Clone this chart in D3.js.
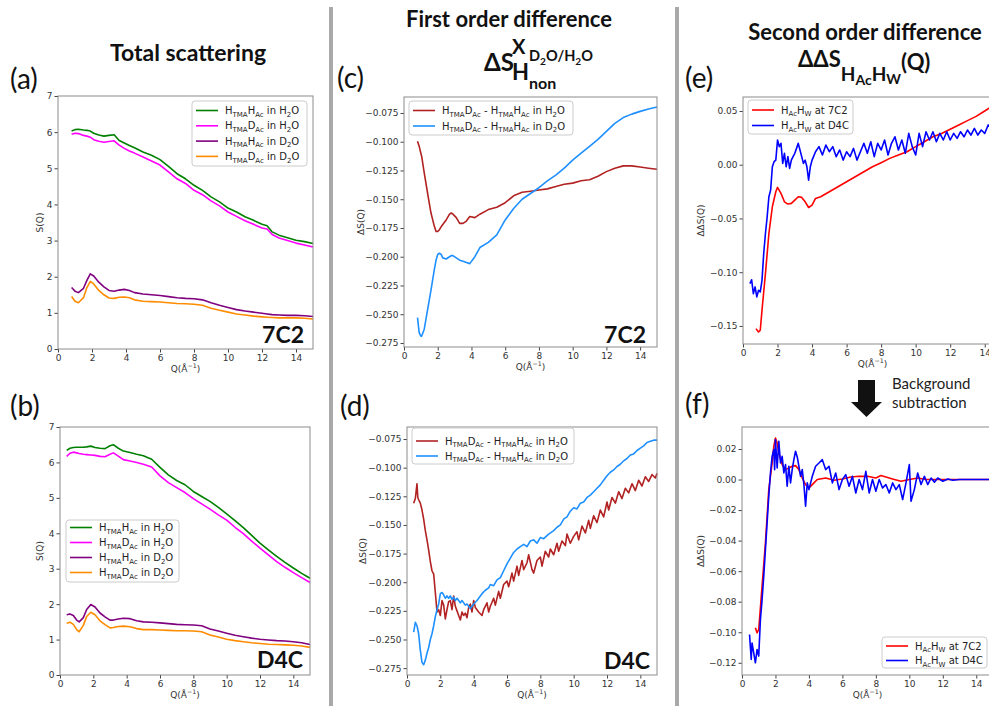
<!DOCTYPE html>
<html>
<head>
<meta charset="utf-8">
<script src="https://cdn.jsdelivr.net/npm/d3@7"></script>
<style>
  body { margin: 0; background: #fff; }
  svg { display: block; }
  .tick text { font-family: "DejaVu Sans", sans-serif; font-size: 9px; fill: #333; }
  .tick line { stroke: #444; }
</style>
</head>
<body>
<svg id="fig" width="989" height="706"></svg>
<script>
// ---------- data ----------
const xTicks = [0, 2, 4, 6, 8, 10, 12, 14];

// (a) total scattering, 7C2
const qA = [0.8,1.0,1.2,1.5,1.7,1.9,2.1,2.4,2.7,3.0,3.3,3.6,3.9,4.2,4.5,5,5.5,6,6.5,7,7.5,8,8.5,9,9.5,10,10.5,11,11.5,12,12.3,12.6,13,13.5,14,14.5,15];
const aHH_H2O = [6.03,6.07,6.08,6.06,6.05,6.03,5.97,5.92,5.89,5.91,5.93,5.77,5.70,5.63,5.57,5.45,5.36,5.24,5.05,4.85,4.71,4.53,4.39,4.21,4.07,3.90,3.79,3.66,3.56,3.45,3.41,3.24,3.15,3.08,3.01,2.97,2.92];
const aHD_H2O = [5.94,5.97,5.96,5.91,5.89,5.86,5.79,5.75,5.72,5.74,5.76,5.64,5.55,5.48,5.42,5.31,5.20,5.09,4.90,4.71,4.58,4.39,4.27,4.10,3.96,3.79,3.67,3.55,3.45,3.35,3.32,3.17,3.07,3.00,2.93,2.88,2.82];
const aHH_D2O = [1.70,1.60,1.56,1.68,1.90,2.08,2.02,1.85,1.72,1.62,1.60,1.63,1.65,1.62,1.56,1.52,1.50,1.48,1.45,1.42,1.40,1.39,1.36,1.28,1.21,1.15,1.09,1.05,1.02,0.99,0.97,0.95,0.94,0.93,0.93,0.92,0.90];
const aHD_D2O = [1.45,1.32,1.28,1.42,1.70,1.87,1.80,1.62,1.50,1.41,1.40,1.43,1.44,1.42,1.36,1.32,1.31,1.30,1.28,1.26,1.25,1.24,1.21,1.13,1.07,1.02,0.97,0.94,0.91,0.89,0.88,0.87,0.86,0.86,0.86,0.85,0.83];

// (b) total scattering, D4C
const qB = [0.4,0.6,0.8,1.0,1.15,1.4,1.6,1.85,2.1,2.4,2.7,3.0,3.2,3.5,3.8,4.2,4.6,5,5.5,6,6.5,7,7.5,8,8.5,9,9.5,10,10.5,11,11.5,12,12.5,13,13.5,14,14.5,15];
const bHH_H2O = [6.34,6.40,6.42,6.43,6.43,6.43,6.44,6.46,6.42,6.40,6.39,6.47,6.50,6.40,6.32,6.28,6.23,6.19,6.09,5.86,5.65,5.49,5.37,5.18,5.04,4.90,4.73,4.55,4.36,4.16,3.94,3.72,3.53,3.35,3.18,3.02,2.87,2.73];
const bHD_H2O = [6.17,6.26,6.29,6.27,6.25,6.23,6.22,6.21,6.20,6.17,6.16,6.23,6.27,6.18,6.08,6.04,6.00,5.95,5.87,5.62,5.43,5.29,5.15,4.98,4.83,4.68,4.52,4.37,4.17,3.99,3.78,3.58,3.39,3.20,3.04,2.89,2.75,2.61];
const bHH_D2O = [1.70,1.72,1.68,1.55,1.50,1.62,1.85,1.99,1.92,1.75,1.64,1.55,1.55,1.58,1.60,1.59,1.53,1.50,1.49,1.47,1.45,1.43,1.42,1.41,1.39,1.30,1.24,1.18,1.12,1.08,1.04,1.01,0.99,0.97,0.96,0.94,0.91,0.86];
const bHD_D2O = [1.46,1.49,1.43,1.28,1.22,1.40,1.65,1.77,1.70,1.53,1.42,1.33,1.34,1.37,1.38,1.36,1.31,1.28,1.28,1.27,1.26,1.25,1.25,1.24,1.22,1.13,1.07,1.01,0.97,0.94,0.91,0.89,0.87,0.86,0.85,0.84,0.82,0.78];

// (c) first order difference, 7C2
const qC = [0.8,0.9,1.0,1.05,1.2,1.4,1.6,1.8,1.9,2.0,2.1,2.2,2.3,2.5,2.7,2.8,2.9,3.1,3.3,3.5,3.7,3.9,4.2,4.5,5,5.5,6,6.5,7,7.5,8,8.5,9,9.5,10,10.5,11,11.5,12,12.5,13,13.5,14,14.5,15];
const cDiffH2O = [-0.0996,-0.104,-0.110,-0.113,-0.127,-0.145,-0.162,-0.1736,-0.178,-0.178,-0.1765,-0.174,-0.172,-0.168,-0.163,-0.162,-0.163,-0.166,-0.171,-0.171,-0.169,-0.165,-0.166,-0.163,-0.159,-0.157,-0.153,-0.147,-0.144,-0.143,-0.142,-0.141,-0.139,-0.137,-0.136,-0.134,-0.133,-0.130,-0.126,-0.123,-0.121,-0.121,-0.122,-0.123,-0.124];
const cDiffD2O = [-0.253,-0.266,-0.269,-0.269,-0.263,-0.246,-0.229,-0.211,-0.203,-0.198,-0.197,-0.198,-0.201,-0.202,-0.200,-0.199,-0.199,-0.201,-0.203,-0.204,-0.205,-0.206,-0.200,-0.192,-0.1875,-0.181,-0.168,-0.158,-0.150,-0.145,-0.140,-0.134,-0.129,-0.123,-0.116,-0.110,-0.104,-0.098,-0.091,-0.084,-0.079,-0.076,-0.0736,-0.0715,-0.0698];

// (d) first order difference, D4C  [Q, dS]
const dDiffH2O = [[0.4,-0.131],[0.5,-0.127],[0.6,-0.114],[0.65,-0.126],[0.7,-0.128],[0.8,-0.131],[0.9,-0.137],[1.0,-0.145],[1.1,-0.155],[1.2,-0.163],[1.3,-0.172],[1.4,-0.182],[1.5,-0.190],[1.6,-0.193],[1.7,-0.209],[1.8,-0.226],[1.9,-0.224],[2.0,-0.229],[2.1,-0.216],[2.2,-0.220],[2.3,-0.232],[2.4,-0.224],[2.5,-0.217],[2.6,-0.216],[2.7,-0.224],[2.8,-0.212],[2.9,-0.221],[3.0,-0.225],[3.1,-0.229],[3.2,-0.233],[3.3,-0.226],[3.4,-0.229],[3.5,-0.227],[3.6,-0.231],[3.7,-0.222],[3.8,-0.219],[3.9,-0.226],[4.0,-0.216],[4.1,-0.222],[4.3,-0.226],[4.5,-0.229],[4.6,-0.224],[4.8,-0.218],[4.9,-0.226],[5.0,-0.221],[5.2,-0.214],[5.3,-0.220],[5.5,-0.208],[5.6,-0.214],[5.8,-0.202],[6.0,-0.199],[6.1,-0.204],[6.3,-0.192],[6.4,-0.199],[6.6,-0.186],[6.7,-0.194],[6.9,-0.181],[7.0,-0.189],[7.2,-0.183],[7.3,-0.176],[7.5,-0.189],[7.6,-0.192],[7.8,-0.181],[8.0,-0.178],[8.1,-0.186],[8.3,-0.173],[8.5,-0.178],[8.6,-0.171],[8.8,-0.176],[9.0,-0.166],[9.1,-0.173],[9.3,-0.164],[9.5,-0.168],[9.6,-0.158],[9.8,-0.166],[10.0,-0.160],[10.2,-0.156],[10.3,-0.163],[10.5,-0.151],[10.7,-0.157],[10.9,-0.146],[11.0,-0.153],[11.2,-0.142],[11.4,-0.148],[11.6,-0.137],[11.8,-0.143],[12.0,-0.130],[12.1,-0.137],[12.3,-0.126],[12.5,-0.131],[12.7,-0.121],[12.9,-0.127],[13.1,-0.118],[13.3,-0.122],[13.5,-0.114],[13.7,-0.120],[13.9,-0.111],[14.1,-0.116],[14.3,-0.108],[14.5,-0.112],[14.7,-0.106],[14.9,-0.109],[15.0,-0.105]];
const dDiffD2O = [[0.4,-0.2435],[0.5,-0.235],[0.6,-0.238],[0.7,-0.245],[0.8,-0.2595],[0.9,-0.270],[1.0,-0.272],[1.1,-0.268],[1.2,-0.262],[1.3,-0.257],[1.4,-0.250],[1.5,-0.245],[1.6,-0.238],[1.7,-0.230],[1.8,-0.224],[1.9,-0.219],[2.0,-0.210],[2.1,-0.209],[2.2,-0.211],[2.3,-0.214],[2.4,-0.212],[2.5,-0.214],[2.6,-0.212],[2.7,-0.215],[2.8,-0.213],[2.9,-0.216],[3.0,-0.214],[3.2,-0.218],[3.3,-0.216],[3.5,-0.220],[3.6,-0.219],[3.8,-0.223],[3.9,-0.221],[4.0,-0.219],[4.2,-0.216],[4.4,-0.212],[4.5,-0.210],[4.7,-0.207],[4.9,-0.205],[5.0,-0.202],[5.2,-0.203],[5.4,-0.198],[5.6,-0.196],[5.8,-0.190],[6.0,-0.184],[6.2,-0.179],[6.4,-0.174],[6.6,-0.171],[6.8,-0.169],[7.0,-0.167],[7.2,-0.169],[7.4,-0.164],[7.6,-0.163],[7.8,-0.166],[8.0,-0.161],[8.2,-0.162],[8.5,-0.158],[8.8,-0.155],[9.0,-0.152],[9.2,-0.150],[9.4,-0.145],[9.6,-0.143],[9.8,-0.138],[10.0,-0.135],[10.2,-0.136],[10.4,-0.131],[10.6,-0.130],[10.8,-0.126],[11.0,-0.124],[11.2,-0.121],[11.4,-0.118],[11.6,-0.115],[11.8,-0.111],[12.0,-0.107],[12.2,-0.104],[12.4,-0.102],[12.6,-0.099],[12.8,-0.097],[13.0,-0.094],[13.2,-0.092],[13.4,-0.089],[13.6,-0.088],[13.8,-0.085],[14.0,-0.083],[14.2,-0.081],[14.4,-0.078],[14.6,-0.077],[14.8,-0.076],[15.0,-0.076]];

// (e) second order difference  [Q, ddS]
const e7C2 = [[0.75,-0.1525],[0.9,-0.1556],[1.0,-0.154],[1.1,-0.1354],[1.3,-0.1012],[1.5,-0.064],[1.7,-0.0391],[1.9,-0.0252],[2.0,-0.0211],[2.2,-0.0267],[2.4,-0.0345],[2.6,-0.0366],[2.8,-0.036],[3.0,-0.0329],[3.2,-0.0298],[3.4,-0.0304],[3.6,-0.0345],[3.8,-0.0398],[4.0,-0.0376],[4.2,-0.0314],[4.5,-0.0298],[5.0,-0.0252],[5.5,-0.0205],[6.0,-0.0158],[6.5,-0.0112],[7.0,-0.0065],[7.5,-0.0019],[8.0,0.0019],[8.5,0.0059],[9.0,0.009],[9.5,0.0121],[10.0,0.0168],[10.5,0.0214],[11.0,0.026],[11.5,0.029],[12.0,0.033],[12.5,0.037],[13.0,0.041],[13.5,0.045],[14.0,0.050],[14.5,0.055],[15.0,0.058]];
const eD4C = [[0.4,-0.1106],[0.5,-0.107],[0.6,-0.120],[0.7,-0.1137],[0.8,-0.123],[0.9,-0.1168],[1.0,-0.1183],[1.1,-0.1075],[1.2,-0.0826],[1.3,-0.064],[1.4,-0.0484],[1.5,-0.0298],[1.6,-0.0236],[1.7,-0.0019],[1.8,0.0028],[1.9,0.0043],[2.0,0.023],[2.1,0.0168],[2.2,0.0199],[2.3,0.0012],[2.4,0.0106],[2.5,-0.0019],[2.6,0.0075],[2.7,-0.0034],[2.8,0.0043],[2.9,0.0075],[3.0,0.0106],[3.1,0.0152],[3.2,0.0199],[3.3,0.0137],[3.4,0.0075],[3.5,0.0012],[3.6,0.0043],[3.7,-0.0019],[3.8,-0.0143],[3.9,-0.0019],[4.0,0.0043],[4.2,0.0121],[4.4,0.0168],[4.6,0.009],[4.8,0.0183],[5.0,0.0121],[5.2,0.0168],[5.4,0.0075],[5.6,0.0137],[5.8,0.0043],[6.0,0.0121],[6.2,0.0075],[6.4,0.0152],[6.6,0.0043],[6.8,0.0121],[7.0,0.0199],[7.2,0.0106],[7.4,0.0214],[7.6,0.0075],[7.8,0.0199],[8.0,0.0137],[8.2,0.023],[8.4,0.009],[8.6,0.0199],[8.8,0.026],[9.0,0.0137],[9.2,0.023],[9.4,0.0106],[9.6,0.0292],[9.8,0.0168],[10.0,0.009],[10.2,0.0292],[10.4,0.0168],[10.6,0.0307],[10.8,0.023],[11.0,0.0307],[11.2,0.0214],[11.4,0.0292],[11.6,0.023],[11.8,0.0307],[12.0,0.023],[12.2,0.0292],[12.4,0.0245],[12.6,0.0307],[12.8,0.026],[13.0,0.0323],[13.2,0.0276],[13.4,0.0338],[13.6,0.0276],[13.8,0.0323],[14.0,0.0292],[14.2,0.037],[14.4,0.0338],[14.6,0.031],[14.8,0.035],[15.0,0.033]];

// (f) after background subtraction  [Q, ddS]
const f7C2 = [[0.8,-0.097],[0.9,-0.1004],[1.0,-0.0982],[1.2,-0.0698],[1.4,-0.0415],[1.6,-0.0066],[1.7,0.0021],[1.8,0.0108],[1.9,0.0217],[2.0,0.0272],[2.1,0.0239],[2.2,0.0174],[2.4,0.0098],[2.6,0.0065],[2.8,0.0076],[3.0,0.0087],[3.2,0.0091],[3.4,0.0065],[3.6,0.001],[3.8,-0.0033],[4.0,-0.0055],[4.2,-0.0033],[4.5,0.0],[5.0,0.001],[5.5,-0.0005],[6.0,0.0004],[6.5,0.0017],[7.0,0.0021],[7.5,0.0021],[8.0,0.001],[8.3,0.0026],[8.6,0.0017],[9.0,0.0004],[9.5,-0.0011],[10.0,0.0],[10.5,0.001],[11.0,0.0],[12.0,0.0],[15.0,0.0]];
const fD4C = [[0.45,-0.1015],[0.55,-0.1178],[0.6,-0.107],[0.7,-0.1135],[0.8,-0.120],[0.9,-0.1113],[1.0,-0.1156],[1.1,-0.0917],[1.2,-0.0786],[1.3,-0.0633],[1.4,-0.0459],[1.5,-0.0284],[1.6,-0.011],[1.7,0.0043],[1.8,0.0152],[1.9,0.0196],[1.95,0.0065],[2.0,0.0261],[2.1,0.0076],[2.2,0.025],[2.3,0.0108],[2.4,0.0152],[2.5,0.0043],[2.6,0.0098],[2.7,-0.0044],[2.8,0.0087],[2.9,-0.0022],[3.0,0.0065],[3.1,0.013],[3.2,0.0185],[3.3,0.0148],[3.4,0.0087],[3.5,0.0021],[3.6,0.0065],[3.7,-0.0033],[3.8,-0.0175],[3.9,-0.0022],[4.0,-0.0066],[4.2,0.0021],[4.4,0.0087],[4.6,0.0108],[4.8,0.013],[5.0,0.0065],[5.2,0.0087],[5.4,-0.0022],[5.6,0.0043],[5.8,-0.0066],[6.0,0.0],[6.2,0.0032],[6.4,-0.0044],[6.6,0.0021],[6.8,-0.0088],[7.0,0.0],[7.2,-0.0066],[7.4,0.0054],[7.6,-0.0088],[7.8,0.0],[8.0,-0.0077],[8.2,0.0],[8.4,-0.0055],[8.6,-0.0033],[8.8,-0.0088],[9.0,-0.0022],[9.2,-0.0066],[9.4,-0.0033],[9.6,-0.0131],[9.8,-0.0022],[10.0,0.0098],[10.1,-0.0142],[10.3,-0.0066],[10.5,0.0043],[10.7,-0.0033],[10.9,0.0021],[11.1,-0.0033],[11.3,0.001],[11.5,-0.0017],[11.7,0.001],[12.0,-0.0011],[12.3,0.0004],[12.6,-0.0005],[13.0,0.0],[15.0,0.0]];

// ---------- helpers ----------
const svg = d3.select("#fig");
const TITLE_FONT = "Lato, 'Open Sans', sans-serif";
const MPL_FONT = "'DejaVu Sans', sans-serif";
const zip = (q, v) => q.map((d, i) => [d, v[i]]);

// text with _{sub} and ^{sup} parts
function rich(sel, str, size) {
  const re = /([_^])\{([^}]*)\}|([^_^]+)/g;
  let m, off = 0;
  while ((m = re.exec(str)) !== null) {
    let target = 0, fs = size, txt = m[3];
    if (m[1]) {
      target = m[1] === "_" ? size * 0.28 : -size * 0.42;
      fs = size * 0.7;
      txt = m[2];
    }
    sel.append("tspan").attr("dy", target - off).attr("font-size", fs).text(txt);
    off = target;
  }
}

function panel(p) {
  const x = d3.scaleLinear().domain([0, 15]).range([p.left, p.right]);
  const y = d3.scaleLinear().domain(p.yDomain).range([p.bottom, p.top]);
  const g = svg.append("g");
  const line = d3.line().x((d) => x(d[0])).y((d) => y(d[1]));

  p.series.forEach((s) => {
    g.append("path")
      .datum(s.data)
      .attr("d", line)
      .attr("fill", "none")
      .attr("stroke", s.color)
      .attr("stroke-width", 1.6)
      .attr("stroke-linejoin", "round");
  });

  const xa = g.append("g")
    .attr("transform", `translate(0,${p.bottom})`)
    .call(d3.axisBottom(x).tickValues(xTicks).tickSize(3.5).tickPadding(2).tickFormat(d3.format("d")));
  const ya = g.append("g")
    .attr("transform", `translate(${p.left},0)`)
    .call(d3.axisLeft(y).tickValues(p.yTicks).tickSize(3.5).tickPadding(2).tickFormat(p.fmt));
  xa.select(".domain").remove();
  ya.select(".domain").remove();

  g.append("rect")
    .attr("x", p.left).attr("y", p.top)
    .attr("width", p.right - p.left).attr("height", p.bottom - p.top)
    .attr("fill", "none").attr("stroke", "#8c8c8c").attr("stroke-width", 1);

  // axis labels
  const xl = g.append("text")
    .attr("x", (p.left + p.right) / 2)
    .attr("y", p.bottom + 23)
    .attr("text-anchor", "middle")
    .attr("font-family", MPL_FONT).attr("font-size", 9).attr("fill", "#333");
  rich(xl, "Q(Å^{−1})", 9);

  g.append("text")
    .attr("transform", `translate(${p.ylX},${(p.top + p.bottom) / 2}) rotate(-90)`)
    .attr("dy", "0.35em")
    .attr("text-anchor", "middle")
    .attr("font-family", MPL_FONT).attr("font-size", 9).attr("fill", "#333")
    .text(p.ylabel);

  // legend
  const L = p.legend;
  const lg = g.append("g");
  lg.append("rect")
    .attr("x", L.x).attr("y", L.y).attr("width", L.w).attr("height", L.h)
    .attr("rx", 3).attr("fill", "#fff").attr("fill-opacity", 0.85)
    .attr("stroke", "#cccccc").attr("stroke-width", 1);
  p.series.forEach((s, i) => {
    const cy = L.y + L.first + i * L.step;
    lg.append("line")
      .attr("x1", L.x + 4).attr("x2", L.x + 26).attr("y1", cy).attr("y2", cy)
      .attr("stroke", s.color).attr("stroke-width", 1.6);
    const t = lg.append("text")
      .attr("x", L.x + 33).attr("y", cy + 3.5)
      .attr("font-family", MPL_FONT).attr("font-size", 10).attr("fill", "#222");
    rich(t, s.label, 10);
  });

  if (p.tag) {
    g.append("text")
      .attr("x", p.tag.x).attr("y", p.tag.y)
      .attr("text-anchor", "end")
      .attr("font-family", TITLE_FONT).attr("font-weight", 700).attr("font-size", 23)
      .attr("fill", "#111").text(p.tag.text);
  }
}

// ---------- separators ----------
[329, 675].forEach((sx) => {
  svg.append("rect").attr("x", sx).attr("y", 7).attr("width", 4).attr("height", 699).attr("fill", "#a9a9a9");
});

// ---------- titles ----------
const title = (x, y, size, anchor) =>
  svg.append("text").attr("x", x).attr("y", y).attr("text-anchor", anchor || "middle")
    .attr("font-family", TITLE_FONT).attr("font-weight", 700).attr("font-size", size).attr("fill", "#111");

title(188, 61, 23).text("Total scattering");
title(509, 27, 22).text("First order difference");
title(484, 71, 24, "start").text("ΔS");
title(512, 54, 20, "start").text("X");
const sub1 = title(529, 61, 14.5, "start");
rich(sub1, "D_{2}O/H_{2}O", 14.5);
title(512, 80, 22, "start").text("H");
title(529, 89, 16, "start").text("non");

title(865, 40, 22).text("Second order difference");
const dd = title(798, 67, 22, "start");
dd.append("tspan").text("ΔΔS");
dd.append("tspan").attr("dy", 14).attr("font-size", 19).text("H");
dd.append("tspan").attr("dy", 4).attr("font-size", 14).text("Ac");
dd.append("tspan").attr("dy", -4).attr("font-size", 19).text("H");
dd.append("tspan").attr("dy", 3).attr("font-size", 14).text("W");
dd.append("tspan").attr("dy", -14).attr("font-size", 22).text("(Q)");

// panel letters
[["(a)", 10, 89], ["(b)", 10, 416], ["(c)", 337, 88], ["(d)", 340, 416], ["(e)", 685, 88], ["(f)", 685, 414]]
  .forEach(([t, x, y]) => {
    svg.append("text").attr("x", x).attr("y", y)
      .attr("font-family", TITLE_FONT).attr("font-size", 28).attr("fill", "#111").text(t);
  });

// arrow + note between (e) and (f)
svg.append("path")
  .attr("d", "M858,380 H875 V402 H882 L866.5,417 L851,402 H858 Z")
  .attr("fill", "#111");
const note = svg.append("text").attr("font-family", TITLE_FONT).attr("font-size", 15).attr("fill", "#222");
note.append("tspan").attr("x", 892).attr("y", 389).text("Background");
note.append("tspan").attr("x", 892).attr("y", 408).text("subtraction");

// ---------- panels ----------
const sLabels = ["H_{TMA}H_{Ac} in H_{2}O", "H_{TMA}D_{Ac} in H_{2}O", "H_{TMA}H_{Ac} in D_{2}O", "H_{TMA}D_{Ac} in D_{2}O"];
const sColors = ["green", "#ff00ff", "purple", "darkorange"];
const dLabels = ["H_{TMA}D_{Ac} - H_{TMA}H_{Ac} in H_{2}O", "H_{TMA}D_{Ac} - H_{TMA}H_{Ac} in D_{2}O"];
const ddLabels = ["H_{Ac}H_{W} at 7C2", "H_{Ac}H_{W} at D4C"];

const intTicks = [0, 1, 2, 3, 4, 5, 6, 7];
const dTicks = [-0.275, -0.25, -0.225, -0.2, -0.175, -0.15, -0.125, -0.1, -0.075];

panel({
  left: 58, right: 313, top: 96, bottom: 349, yDomain: [0, 7], yTicks: intTicks, fmt: d3.format("d"),
  ylabel: "S(Q)", ylX: 40,
  series: [aHH_H2O, aHD_H2O, aHH_D2O, aHD_D2O].map((v, i) => ({ data: zip(qA, v), color: sColors[i], label: sLabels[i] })),
  legend: { x: 192, y: 101, w: 115, h: 65, first: 9.5, step: 15.3 },
  tag: { text: "7C2", x: 304, y: 343 }
});
panel({
  left: 60, right: 310, top: 427, bottom: 675, yDomain: [0, 7], yTicks: intTicks, fmt: d3.format("d"),
  ylabel: "S(Q)", ylX: 40,
  series: [bHH_H2O, bHD_H2O, bHH_D2O, bHD_D2O].map((v, i) => ({ data: zip(qB, v), color: sColors[i], label: sLabels[i] })),
  legend: { x: 66, y: 520, w: 113, h: 62, first: 7.5, step: 15 },
  tag: { text: "D4C", x: 303, y: 668 }
});
panel({
  left: 404, right: 657, top: 97, bottom: 347, yDomain: [-0.2785, -0.0611], yTicks: dTicks, fmt: d3.format(".3f"),
  ylabel: "ΔS(Q)", ylX: 361,
  series: [
    { data: zip(qC, cDiffH2O), color: "firebrick", label: dLabels[0] },
    { data: zip(qC, cDiffD2O), color: "dodgerblue", label: dLabels[1] }
  ],
  legend: { x: 409, y: 101, w: 164, h: 34, first: 9.5, step: 15.5 },
  tag: { text: "7C2", x: 646, y: 343 }
});
panel({
  left: 407, right: 657, top: 427, bottom: 675, yDomain: [-0.281, -0.0645], yTicks: dTicks, fmt: d3.format(".3f"),
  ylabel: "ΔS(Q)", ylX: 363,
  series: [
    { data: dDiffH2O, color: "firebrick", label: dLabels[0] },
    { data: dDiffD2O, color: "dodgerblue", label: dLabels[1] }
  ],
  legend: { x: 412, y: 428, w: 162, h: 36, first: 13, step: 15 },
  tag: { text: "D4C", x: 650, y: 669 }
});
panel({
  left: 743, right: 1002, top: 97, bottom: 344, yDomain: [-0.1668, 0.063], yTicks: [-0.15, -0.1, -0.05, 0, 0.05], fmt: d3.format(".2f"),
  ylabel: "ΔΔS(Q)", ylX: 701,
  series: [
    { data: e7C2, color: "red", label: ddLabels[0] },
    { data: eD4C, color: "blue", label: ddLabels[1] }
  ],
  legend: { x: 748, y: 100, w: 105, h: 34, first: 10, step: 15.5 }
});
panel({
  left: 742, right: 993, top: 427, bottom: 675, yDomain: [-0.128, 0.0344],
  yTicks: [-0.12, -0.1, -0.08, -0.06, -0.04, -0.02, 0, 0.02], fmt: d3.format(".2f"),
  ylabel: "ΔΔS(Q)", ylX: 701,
  series: [
    { data: f7C2, color: "red", label: ddLabels[0] },
    { data: fD4C, color: "blue", label: ddLabels[1] }
  ],
  legend: { x: 882, y: 637, w: 105, h: 31, first: 9, step: 14.5 }
});
</script>
</body>
</html>
